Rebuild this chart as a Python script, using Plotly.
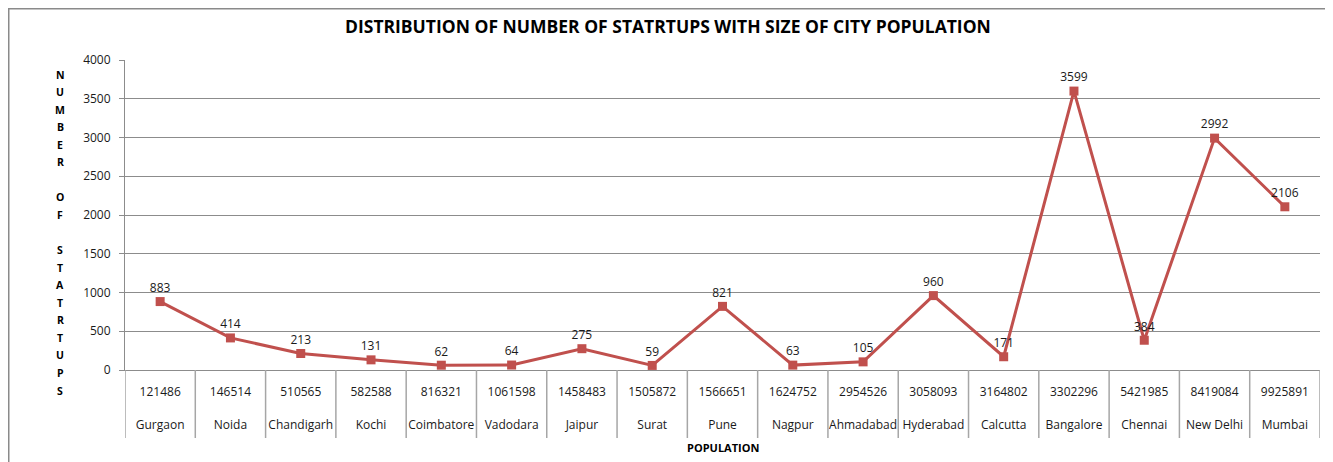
import plotly.graph_objects as go

cities = ["Gurgaon", "Noida", "Chandigarh", "Kochi", "Coimbatore", "Vadodara", "Jaipur",
          "Surat", "Pune", "Nagpur", "Ahmadabad", "Hyderabad", "Calcutta", "Bangalore",
          "Chennai", "New Delhi", "Mumbai"]
population = [121486, 146514, 510565, 582588, 816321, 1061598, 1458483, 1505872, 1566651,
              1624752, 2954526, 3058093, 3164802, 3302296, 5421985, 8419084, 9925891]
startups = [883, 414, 213, 131, 62, 64, 275, 59, 821, 63, 105, 960, 171, 3599, 384, 2992, 2106]

title = "DISTRIBUTION OF NUMBER OF STATRTUPS WITH SIZE OF CITY POPULATION"
x_title = "POPULATION"
y_title_letters = list("NUMBER") + [""] + list("OF") + [""] + list("STATRTUPS")

# the page body has an 8px margin: size the figure so the visible page matches 1333x462
OFF = 8
W, H = 1333 - OFF, 462 - OFF
PL, PR, PT, PB = 125, 1320, 60, 370          # plot area in page pixels
L, T = PL - OFF, PT - OFF
R, B = W - (PR - OFF), H - (PB - OFF)
pw, ph = PR - PL, PB - PT


def px_x(px):
    return (px - PL) / pw


def px_y(py):
    return (PB - py) / ph


FONT = "Open Sans"
RED = "#C0504D"
GRID = "#8c8c8c"
TXT = "#1a1a1a"

idx = list(range(len(cities)))
ticktext = [f'<span style="font-size:12px">{p}</span><br><br><span style="font-size:12px">{c}</span>'
            for p, c in zip(population, cities)]
bounds = [i - 0.5 for i in range(len(cities) + 1)]

fig = go.Figure()
fig.add_trace(go.Scatter(
    x=idx, y=startups,
    mode="lines+markers+text",
    line=dict(color=RED, width=3),
    marker=dict(symbol="square", size=9, color=RED),
    text=[str(v) for v in startups],
    textposition="top center",
    textfont=dict(family=FONT, size=12, color=TXT),
    cliponaxis=False, showlegend=False, hoverinfo="skip",
))

annotations = [
    dict(text="<b>" + title + "</b>", x=px_x(668), y=px_y(26), xref="paper", yref="paper",
         showarrow=False, font=dict(family=FONT, size=17.5, color="#000000"),
         xanchor="center", yanchor="middle"),
    dict(text="<b>" + x_title + "</b>", x=0.5, y=px_y(448), xref="paper", yref="paper",
         showarrow=False, font=dict(family=FONT, size=11, color="#000000"),
         xanchor="center", yanchor="middle"),
]
y_start, y_end = 74.5, 390.5
y_step = (y_end - y_start) / (len(y_title_letters) - 1)
for i, ch in enumerate(y_title_letters):
    if not ch:
        continue
    annotations.append(dict(text="<b>" + ch + "</b>", x=px_x(60), y=px_y(y_start + i * y_step),
                            xref="paper", yref="paper", showarrow=False,
                            font=dict(family=FONT, size=10.5, color="#000000"),
                            xanchor="center", yanchor="middle"))

shapes = [dict(type="rect", xref="paper", yref="paper",
               x0=px_x(OFF + 0.75), x1=px_x(1332), y0=px_y(480), y1=px_y(OFF + 0.75),
               line=dict(color="#8a8a8a", width=1.5), fillcolor="rgba(0,0,0,0)", layer="below")]
for bx in bounds:
    shapes.append(dict(type="line", xref="x", yref="paper", x0=bx, x1=bx,
                       y0=0, y1=px_y(438), line=dict(color="#a6a6a6", width=1.5)))

fig.update_layout(
    width=W, height=H,
    margin=dict(l=L, r=R, t=T, b=B, autoexpand=False),
    paper_bgcolor="white", plot_bgcolor="white",
    font=dict(family=FONT, size=12, color=TXT),
    annotations=annotations,
    shapes=shapes,
    xaxis=dict(range=[-0.5, len(cities) - 0.5], tickmode="array", tickvals=idx, ticktext=ticktext,
               showline=True, linecolor=GRID, linewidth=1, showgrid=False, zeroline=False,
               ticks="outside", ticklen=9, tickcolor="rgba(0,0,0,0)",
               tickfont=dict(family=FONT, size=13, color=TXT)),
    yaxis=dict(range=[0, 4000], dtick=500, showline=True, linecolor=GRID, linewidth=1,
               showgrid=True, gridcolor=GRID, gridwidth=1, ticks="outside", ticklen=5,
               tickcolor=GRID, ticklabelstandoff=6,
               tickfont=dict(family=FONT, size=12, color=TXT), zeroline=False),
)

fig.write_html("out.html")
